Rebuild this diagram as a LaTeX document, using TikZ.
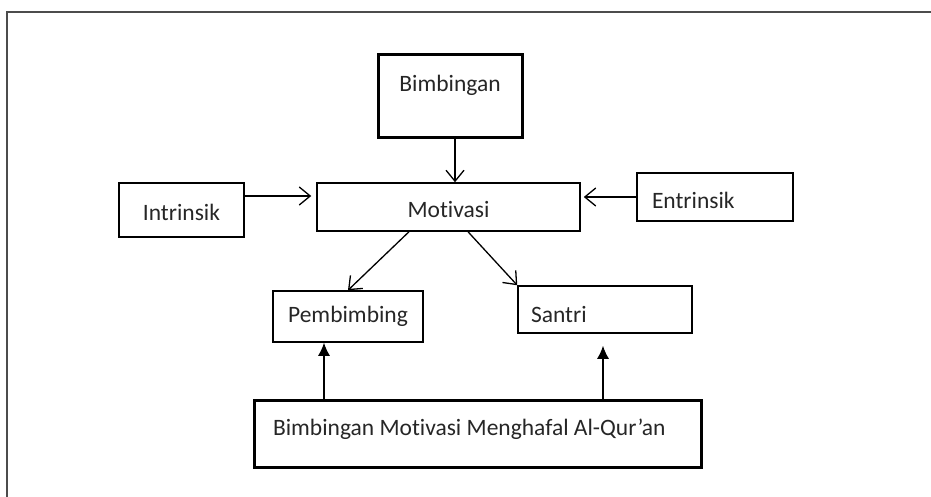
\documentclass[tikz,border=0pt]{standalone}
\usepackage{fontspec}
\setmainfont{Carlito}[Ligatures=NoCommon]
\usetikzlibrary{arrows.meta}
\tikzset{
  box/.style={draw, line width=1.5pt, inner sep=0pt, text=black!85},
  thickbox/.style={box, line width=3pt},
  openarrow/.style={line width=1.3pt, -{Straight Barb[length=11pt, width=18pt, line width=1.3pt]}},
  fillarrow/.style={line width=1.3pt, -{Latex[length=13pt, width=12pt]}}
}
\begin{document}
\begin{tikzpicture}[x=1pt, y=-1pt, font=\fontsize{23.5pt}{28pt}\selectfont]
\useasboundingbox (0,0) rectangle (931,497);
% Outer frame
\draw[line width=1.7pt, black!70] (7,497) -- (7,12) -- (931,12);
% Boxes
\node[thickbox, minimum width=144pt, minimum height=83pt, text height=18pt, text depth=27pt] (bim) at (450,96.5) {Bimbingan};
\node[box, minimum width=263pt, minimum height=48pt, text height=22pt, text depth=0pt] (mot) at (448.5,207) {Motivasi};
\node[box, minimum width=125pt, minimum height=54pt, text height=21pt, text depth=0pt] (intr) at (181.5,210) {Intrinsik};
\node[box, minimum height=48pt, text width=126pt, inner xsep=15pt, align=flush left, text height=22pt, text depth=0pt] (entr) at (715,197) {Entrinsik};
\node[box, minimum width=150pt, minimum height=51pt] (pemb) at (348,316.5) {Pembimbing};
\node[box, minimum height=47pt, text width=148pt, inner xsep=13pt, align=flush left, text height=26pt, text depth=0pt] (santri) at (605,309.5) {Santri};
\node[thickbox, minimum height=67pt, text width=409pt, inner xsep=19pt, align=flush left, text height=16pt, text depth=12pt] (bot) at (477.5,433.5) {Bimbingan Motivasi Menghafal Al-Qur’an};
% Arrows into Motivasi
\draw[openarrow] ([xshift=5pt]bim.south) -- ([xshift=5pt]bim.south |- mot.north);
\draw[openarrow, shorten >=5pt] ([yshift=14pt]intr.east) -- ([yshift=14pt]intr.east -| mot.west);
\draw[openarrow, shorten >=3pt] (entr.west) -- (entr.west -| mot.east);
% Arrows out of Motivasi
\draw[openarrow] ([xshift=-39.5pt]mot.south) -- (pemb.north);
\draw[openarrow] ([xshift=19.5pt]mot.south) -- (santri.north west);
% Arrows from the bottom box
\draw[fillarrow] ([xshift=-24pt]pemb.south |- bot.north) -- ([xshift=-24pt]pemb.south);
\draw[fillarrow, shorten >=12pt] ([xshift=-2pt]santri.south |- bot.north) -- ([xshift=-2pt]santri.south);
\end{tikzpicture}
\end{document}
